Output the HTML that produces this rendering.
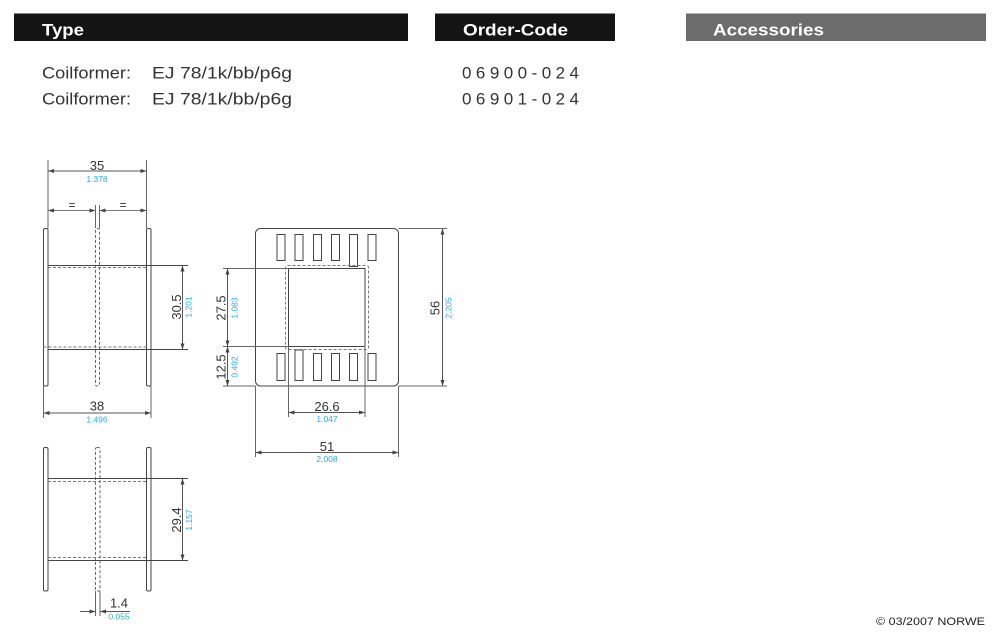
<!DOCTYPE html>
<html><head><meta charset="utf-8"><style>
html,body{margin:0;padding:0;background:#fff;}
svg{display:block;}
text{font-family:"Liberation Sans",Arial,sans-serif;}
</style></head><body>
<svg width="1000" height="642" viewBox="0 0 1000 642" xmlns="http://www.w3.org/2000/svg">
<defs>
<marker id="a" viewBox="0 0 6 4" refX="6" refY="2" markerWidth="6" markerHeight="4" markerUnits="userSpaceOnUse" orient="auto-start-reverse"><path d="M0,0 L6,2 L0,4 z" fill="#444"/></marker>
</defs>
<rect x="0" y="0" width="1000" height="642" fill="#fff"/>

<!-- headers -->
<rect x="14" y="13.5" width="394" height="27.5" fill="#141414"/>
<rect x="435" y="13.5" width="180" height="27.5" fill="#141414"/>
<rect x="686" y="13.5" width="300" height="27.5" fill="#6b6c6b"/>
<text x="42" y="35.5" font-size="17" font-weight="bold" fill="#fff" textLength="42" lengthAdjust="spacingAndGlyphs">Type</text>
<text x="463" y="35.5" font-size="17" font-weight="bold" fill="#fff" textLength="105" lengthAdjust="spacingAndGlyphs">Order-Code</text>
<text x="713" y="35.5" font-size="17" font-weight="bold" fill="#fff" textLength="111" lengthAdjust="spacingAndGlyphs">Accessories</text>

<!-- rows -->
<g font-size="17" fill="#333">
<text x="42" y="78.5" textLength="89" lengthAdjust="spacingAndGlyphs">Coilformer:</text>
<text x="152" y="78.5" textLength="140" lengthAdjust="spacingAndGlyphs">EJ 78/1k/bb/p6g</text>
<text x="462" y="78.5" textLength="117" lengthAdjust="spacing">06900-024</text>
<text x="42" y="104.5" textLength="89" lengthAdjust="spacingAndGlyphs">Coilformer:</text>
<text x="152" y="104.5" textLength="140" lengthAdjust="spacingAndGlyphs">EJ 78/1k/bb/p6g</text>
<text x="462" y="104.5" textLength="117" lengthAdjust="spacing">06901-024</text>
</g>

<!-- ===== Top-left view ===== -->
<g stroke="#444" stroke-width="1" fill="none">
<rect x="43.5" y="228.5" width="4.5" height="157.5" rx="1.5"/>
<rect x="146.5" y="228.5" width="4.5" height="157.5" rx="1.5"/>
<rect x="95.5" y="228.5" width="4" height="157.5" rx="1.5" stroke="#666" stroke-dasharray="3,2"/>
<line x1="48" y1="265.5" x2="188" y2="265.5"/>
<line x1="48" y1="267.5" x2="146.5" y2="267.5" stroke="#777" stroke-dasharray="3,2"/>
<line x1="43.5" y1="347" x2="146.5" y2="347" stroke="#777" stroke-dasharray="3,2"/>
<line x1="48" y1="349.5" x2="188" y2="349.5"/>
<!-- ext lines -->
<line x1="48" y1="160" x2="48" y2="228" stroke="#666"/>
<line x1="146.5" y1="160" x2="146.5" y2="228" stroke="#666"/>
<line x1="95.5" y1="205" x2="95.5" y2="228" stroke="#666"/>
<line x1="99.5" y1="205" x2="99.5" y2="228" stroke="#666"/>
<line x1="43.5" y1="386" x2="43.5" y2="418" stroke="#666"/>
<line x1="151" y1="386" x2="151" y2="418" stroke="#666"/>
<!-- dims -->
<line x1="48" y1="171" x2="146.5" y2="171" stroke="#555" marker-start="url(#a)" marker-end="url(#a)"/>
<line x1="48" y1="210.5" x2="95.5" y2="210.5" stroke="#777" marker-start="url(#a)" marker-end="url(#a)"/>
<line x1="99.5" y1="210.5" x2="146.5" y2="210.5" stroke="#777" marker-start="url(#a)" marker-end="url(#a)"/>
<line x1="182.5" y1="265.5" x2="182.5" y2="349.5" stroke="#555" marker-start="url(#a)" marker-end="url(#a)"/>
<line x1="43.5" y1="413" x2="151" y2="413" stroke="#555" marker-start="url(#a)" marker-end="url(#a)"/>
</g>
<g font-size="13" fill="#333" text-anchor="middle">
<text x="97" y="170">35</text>
<text x="72" y="209" font-size="12">=</text>
<text x="123" y="209" font-size="12">=</text>
<text x="97" y="410.5">38</text>
<text transform="translate(181,307) rotate(-90)">30.5</text>
</g>
<g font-size="8.5" fill="#22aee6" text-anchor="middle">
<text x="97" y="182">1.378</text>
<text x="97" y="422.5">1.496</text>
<text transform="translate(191.5,307) rotate(-90)">1.201</text>
</g>

<!-- ===== Bottom-left view ===== -->
<g stroke="#444" stroke-width="1" fill="none">
<rect x="43.5" y="447.5" width="4.5" height="143.5" rx="1.5"/>
<rect x="146.5" y="447.5" width="4.5" height="143.5" rx="1.5"/>
<rect x="95.5" y="447.5" width="4.5" height="143.5" rx="1.5" stroke="#666" stroke-dasharray="3,2"/>
<line x1="48" y1="478.5" x2="188" y2="478.5"/>
<line x1="48" y1="481.5" x2="146.5" y2="481.5" stroke="#777" stroke-dasharray="3,2"/>
<line x1="48" y1="557.5" x2="146.5" y2="557.5" stroke="#777" stroke-dasharray="3,2"/>
<line x1="48" y1="560.5" x2="188" y2="560.5"/>
<line x1="95.5" y1="591" x2="95.5" y2="616" stroke="#666"/>
<line x1="100" y1="591" x2="100" y2="616" stroke="#666"/>
<line x1="182.5" y1="478.5" x2="182.5" y2="560.5" stroke="#555" marker-start="url(#a)" marker-end="url(#a)"/>
<line x1="80" y1="611.5" x2="95.5" y2="611.5" stroke="#555" marker-end="url(#a)"/>
<line x1="130" y1="611.5" x2="100" y2="611.5" stroke="#555" marker-end="url(#a)"/>
</g>
<g font-size="13" fill="#333" text-anchor="middle">
<text transform="translate(181,520) rotate(-90)">29.4</text>
<text x="119" y="607.5">1.4</text>
</g>
<g font-size="8.5" fill="#22aee6" text-anchor="middle">
<text transform="translate(192,520) rotate(-90)">1.157</text>
<text x="119" y="619.5">0.055</text>
</g>

<!-- ===== Right view ===== -->
<g stroke="#444" stroke-width="1" fill="none">
<rect x="255.5" y="228.5" width="143" height="157.5" rx="5"/>
<!-- top slots -->
<rect x="277" y="234.5" width="8" height="26"/>
<rect x="295" y="234.5" width="8" height="26"/>
<rect x="313.5" y="234.5" width="8" height="26"/>
<rect x="331.5" y="234.5" width="8" height="26"/>
<rect x="349.5" y="234.5" width="8" height="32"/>
<rect x="368" y="234.5" width="8" height="26"/>
<!-- bottom slots -->
<rect x="277" y="353.5" width="8" height="27"/>
<rect x="295" y="350" width="8" height="30.5"/>
<rect x="313.5" y="353.5" width="8" height="27"/>
<rect x="331.5" y="353.5" width="8" height="27"/>
<rect x="349.5" y="353.5" width="8" height="27"/>
<rect x="368" y="353.5" width="8" height="27"/>
<!-- core window -->
<rect x="285.5" y="265.5" width="83" height="84" rx="2" stroke="#777" stroke-dasharray="3,2"/>
<rect x="288.5" y="268.5" width="76.5" height="78"/>
<!-- ext lines -->
<line x1="223" y1="268.5" x2="288.5" y2="268.5" stroke="#666"/>
<line x1="223" y1="346.5" x2="288.5" y2="346.5" stroke="#666"/>
<line x1="223" y1="386" x2="255.5" y2="386" stroke="#666"/>
<line x1="398.5" y1="228.5" x2="447" y2="228.5" stroke="#666"/>
<line x1="398.5" y1="386" x2="447" y2="386" stroke="#666"/>
<line x1="288.5" y1="346.5" x2="288.5" y2="417" stroke="#666"/>
<line x1="365" y1="346.5" x2="365" y2="417" stroke="#666"/>
<line x1="255.5" y1="386" x2="255.5" y2="457" stroke="#666"/>
<line x1="398.5" y1="386" x2="398.5" y2="457" stroke="#666"/>
<!-- dims -->
<line x1="227.5" y1="268.5" x2="227.5" y2="346.5" stroke="#555" marker-start="url(#a)" marker-end="url(#a)"/>
<line x1="227.5" y1="346.5" x2="227.5" y2="386" stroke="#555" marker-start="url(#a)" marker-end="url(#a)"/>
<line x1="442.5" y1="228.5" x2="442.5" y2="386" stroke="#555" marker-start="url(#a)" marker-end="url(#a)"/>
<line x1="288.5" y1="412.5" x2="365" y2="412.5" stroke="#555" marker-start="url(#a)" marker-end="url(#a)"/>
<line x1="255.5" y1="452.5" x2="398.5" y2="452.5" stroke="#555" marker-start="url(#a)" marker-end="url(#a)"/>
</g>
<g font-size="13" fill="#333" text-anchor="middle">
<text transform="translate(225.5,308) rotate(-90)">27.5</text>
<text transform="translate(225.5,367) rotate(-90)">12.5</text>
<text transform="translate(439.5,308) rotate(-90)">56</text>
<text x="327" y="411">26.6</text>
<text x="327" y="451">51</text>
</g>
<g font-size="8.5" fill="#22aee6" text-anchor="middle">
<text transform="translate(237.5,308) rotate(-90)">1.083</text>
<text transform="translate(237.5,367) rotate(-90)">0.492</text>
<text transform="translate(451.5,308) rotate(-90)">2.205</text>
<text x="327" y="422">1.047</text>
<text x="327" y="462">2.008</text>
</g>

<text x="876" y="625" font-size="11" fill="#222" textLength="109" lengthAdjust="spacingAndGlyphs">© 03/2007 NORWE</text>
</svg>
</body></html>
